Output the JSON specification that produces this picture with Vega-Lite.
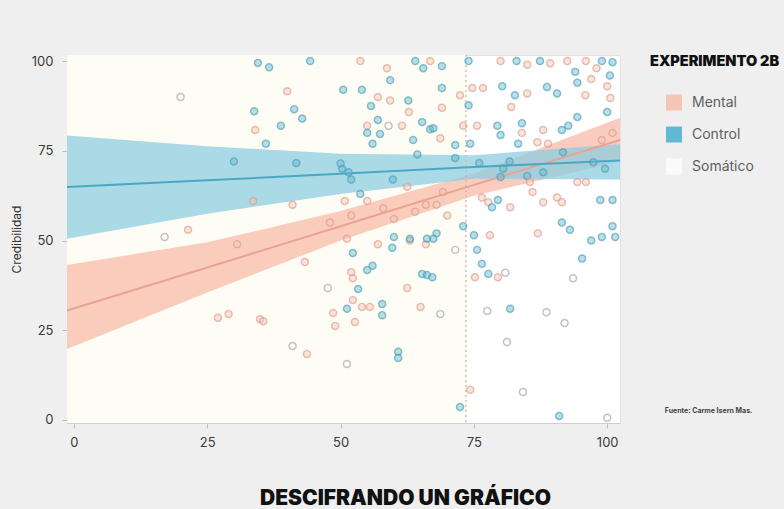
{
 "$schema": "https://vega.github.io/schema/vega-lite/v6.json",
 "width": 553,
 "height": 368,
 "autosize": {"type": "none"},
 "padding": {"left": 67, "top": 55, "right": 164, "bottom": 86},
 "background": "#efefef",
 "config": {
  "font": "Inter",
  "view": {"fill": "#ffffff", "stroke": "#e2e2e2"},
  "axis": {"labelFont": "Inter", "labelFontSize": 13, "labelColor": "#3a3a3a", "domainColor": "#cfcfcf", "tickColor": "#bdbdbd", "tickSize": 5, "grid": false, "titleFont": "Inter"}
 },
 "title": {"text": "DESCIFRANDO UN GRÁFICO", "orient": "bottom", "anchor": "middle", "frame": "group", "dx": 62, "offset": 39, "fontSize": 21, "fontWeight": 900, "font": "Inter", "color": "#111111", "letterSpacing": -0.3},
 "datasets": {
  "umbral": [{"inicio": -1.3, "corte": 73.5, "fuente": "Fuente: Carme Isern Mas.", "fx": 110.8, "fy": 2.5}],
  "ajuste": [
   {"grupo": "Mental", "x": -1.3, "fit": 30.5, "lo": 19.8, "hi": 43.2},
   {"grupo": "Mental", "x": 25, "fit": 42.5, "lo": 35.5, "hi": 49.5},
   {"grupo": "Mental", "x": 50, "fit": 54, "lo": 50, "hi": 58.2},
   {"grupo": "Mental", "x": 75, "fit": 65.5, "lo": 62.5, "hi": 68.7},
   {"grupo": "Mental", "x": 102.4, "fit": 78, "lo": 72, "hi": 84.2},
   {"grupo": "Control", "x": -1.3, "fit": 64.9, "lo": 50.5, "hi": 79.3},
   {"grupo": "Control", "x": 25, "fit": 66.8, "lo": 57.5, "hi": 76.3},
   {"grupo": "Control", "x": 50, "fit": 68.6, "lo": 63, "hi": 74.2},
   {"grupo": "Control", "x": 75, "fit": 70.5, "lo": 67.2, "hi": 73.8},
   {"grupo": "Control", "x": 102.4, "fit": 72.3, "lo": 67, "hi": 76.8}
  ],
  "puntos": [
   {"x": 20, "y": 90, "g": "Somático"},
   {"x": 30, "y": 72, "g": "Control"},
   {"x": 17, "y": 51, "g": "Somático"},
   {"x": 21.4, "y": 53, "g": "Mental"},
   {"x": 34.5, "y": 99.5, "g": "Control"},
   {"x": 36.6, "y": 98.3, "g": "Control"},
   {"x": 44.3, "y": 100, "g": "Control"},
   {"x": 53.7, "y": 100, "g": "Mental"},
   {"x": 64, "y": 100, "g": "Control"},
   {"x": 66.8, "y": 100, "g": "Mental"},
   {"x": 65.5, "y": 98, "g": "Control"},
   {"x": 58.7, "y": 98, "g": "Mental"},
   {"x": 59.3, "y": 94.7, "g": "Control"},
   {"x": 40, "y": 91.6, "g": "Mental"},
   {"x": 50.5, "y": 92, "g": "Control"},
   {"x": 54, "y": 92, "g": "Control"},
   {"x": 57, "y": 90, "g": "Mental"},
   {"x": 59.3, "y": 89, "g": "Mental"},
   {"x": 62.7, "y": 89, "g": "Control"},
   {"x": 55.7, "y": 87.5, "g": "Control"},
   {"x": 62.8, "y": 85.8, "g": "Mental"},
   {"x": 33.8, "y": 86, "g": "Control"},
   {"x": 41.3, "y": 86.6, "g": "Control"},
   {"x": 42.8, "y": 84, "g": "Control"},
   {"x": 38.8, "y": 82, "g": "Control"},
   {"x": 34, "y": 80.8, "g": "Mental"},
   {"x": 55, "y": 82, "g": "Mental"},
   {"x": 57, "y": 83.6, "g": "Control"},
   {"x": 59, "y": 82, "g": "Somático"},
   {"x": 61.5, "y": 82, "g": "Mental"},
   {"x": 65.3, "y": 83, "g": "Control"},
   {"x": 66.8, "y": 81, "g": "Control"},
   {"x": 55, "y": 80, "g": "Control"},
   {"x": 57.4, "y": 79.7, "g": "Control"},
   {"x": 56, "y": 77, "g": "Control"},
   {"x": 63.6, "y": 78, "g": "Control"},
   {"x": 36, "y": 77, "g": "Control"},
   {"x": 41.7, "y": 71.6, "g": "Control"},
   {"x": 50.3, "y": 70, "g": "Control"},
   {"x": 52, "y": 67, "g": "Control"},
   {"x": 59.8, "y": 67, "g": "Control"},
   {"x": 53.7, "y": 63, "g": "Control"},
   {"x": 64.4, "y": 74, "g": "Control"},
   {"x": 50.8, "y": 61, "g": "Mental"},
   {"x": 41, "y": 60, "g": "Mental"},
   {"x": 33.6, "y": 61, "g": "Mental"},
   {"x": 62.5, "y": 65, "g": "Mental"},
   {"x": 55, "y": 61, "g": "Mental"},
   {"x": 50, "y": 71.5, "g": "Control"},
   {"x": 51.5, "y": 69, "g": "Control"},
   {"x": 48, "y": 55, "g": "Mental"},
   {"x": 52, "y": 57, "g": "Mental"},
   {"x": 58, "y": 59, "g": "Mental"},
   {"x": 60, "y": 56, "g": "Mental"},
   {"x": 64, "y": 58, "g": "Mental"},
   {"x": 66, "y": 60, "g": "Mental"},
   {"x": 70, "y": 57, "g": "Mental"},
   {"x": 57, "y": 49, "g": "Mental"},
   {"x": 60, "y": 51, "g": "Control"},
   {"x": 63, "y": 50, "g": "Mental"},
   {"x": 66, "y": 49, "g": "Mental"},
   {"x": 68, "y": 52, "g": "Control"},
   {"x": 69, "y": 98.6, "g": "Control"},
   {"x": 74, "y": 100, "g": "Control"},
   {"x": 80, "y": 100, "g": "Mental"},
   {"x": 83, "y": 100, "g": "Control"},
   {"x": 87.4, "y": 100, "g": "Control"},
   {"x": 89.3, "y": 99.4, "g": "Mental"},
   {"x": 92.5, "y": 100, "g": "Mental"},
   {"x": 99, "y": 100, "g": "Control"},
   {"x": 101, "y": 99.7, "g": "Control"},
   {"x": 85, "y": 99, "g": "Mental"},
   {"x": 94, "y": 97, "g": "Control"},
   {"x": 96, "y": 100, "g": "Mental"},
   {"x": 98, "y": 98, "g": "Mental"},
   {"x": 100.5, "y": 96, "g": "Control"},
   {"x": 97, "y": 95, "g": "Mental"},
   {"x": 69, "y": 92.5, "g": "Control"},
   {"x": 72.4, "y": 90.5, "g": "Mental"},
   {"x": 74.7, "y": 92.5, "g": "Mental"},
   {"x": 76.7, "y": 92.5, "g": "Mental"},
   {"x": 80.3, "y": 93, "g": "Control"},
   {"x": 82.7, "y": 90.5, "g": "Control"},
   {"x": 85, "y": 91, "g": "Mental"},
   {"x": 88.7, "y": 92.8, "g": "Control"},
   {"x": 90.6, "y": 91, "g": "Control"},
   {"x": 94.4, "y": 94, "g": "Control"},
   {"x": 95.9, "y": 90.5, "g": "Mental"},
   {"x": 100, "y": 93, "g": "Mental"},
   {"x": 100.6, "y": 89.7, "g": "Mental"},
   {"x": 69, "y": 87, "g": "Mental"},
   {"x": 74, "y": 87.7, "g": "Control"},
   {"x": 82, "y": 87.2, "g": "Mental"},
   {"x": 94.4, "y": 84.4, "g": "Control"},
   {"x": 100, "y": 85.8, "g": "Control"},
   {"x": 67.4, "y": 81.3, "g": "Control"},
   {"x": 73, "y": 82, "g": "Mental"},
   {"x": 75.6, "y": 82, "g": "Mental"},
   {"x": 79.4, "y": 82, "g": "Control"},
   {"x": 80, "y": 79.4, "g": "Control"},
   {"x": 84, "y": 82.7, "g": "Control"},
   {"x": 84, "y": 80, "g": "Mental"},
   {"x": 88, "y": 80.8, "g": "Mental"},
   {"x": 91.5, "y": 80.8, "g": "Control"},
   {"x": 92.7, "y": 82, "g": "Control"},
   {"x": 68.7, "y": 78.5, "g": "Mental"},
   {"x": 71.5, "y": 76.6, "g": "Control"},
   {"x": 74.3, "y": 77, "g": "Control"},
   {"x": 83.3, "y": 77, "g": "Control"},
   {"x": 86.9, "y": 77.4, "g": "Mental"},
   {"x": 88.9, "y": 77, "g": "Mental"},
   {"x": 101, "y": 80, "g": "Mental"},
   {"x": 99, "y": 78, "g": "Mental"},
   {"x": 71.5, "y": 73, "g": "Control"},
   {"x": 76, "y": 71.6, "g": "Control"},
   {"x": 80.5, "y": 70, "g": "Control"},
   {"x": 81.7, "y": 72, "g": "Control"},
   {"x": 88, "y": 69, "g": "Control"},
   {"x": 85, "y": 68, "g": "Control"},
   {"x": 91.7, "y": 74.6, "g": "Control"},
   {"x": 97.4, "y": 71.8, "g": "Control"},
   {"x": 99.6, "y": 70, "g": "Control"},
   {"x": 80, "y": 67.7, "g": "Control"},
   {"x": 69.2, "y": 63.5, "g": "Mental"},
   {"x": 76.5, "y": 62, "g": "Mental"},
   {"x": 77.7, "y": 60.7, "g": "Mental"},
   {"x": 79.5, "y": 61.3, "g": "Control"},
   {"x": 78.4, "y": 59.3, "g": "Control"},
   {"x": 81.8, "y": 59.3, "g": "Mental"},
   {"x": 85.5, "y": 66.3, "g": "Mental"},
   {"x": 86, "y": 63.5, "g": "Mental"},
   {"x": 88, "y": 60.7, "g": "Mental"},
   {"x": 90.6, "y": 62, "g": "Mental"},
   {"x": 91.5, "y": 60.7, "g": "Mental"},
   {"x": 94.4, "y": 66.3, "g": "Mental"},
   {"x": 96, "y": 66.3, "g": "Mental"},
   {"x": 98.7, "y": 61.3, "g": "Control"},
   {"x": 101, "y": 61.3, "g": "Control"},
   {"x": 68, "y": 60, "g": "Mental"},
   {"x": 91.5, "y": 55, "g": "Control"},
   {"x": 93, "y": 53, "g": "Control"},
   {"x": 87, "y": 52, "g": "Mental"},
   {"x": 73, "y": 54, "g": "Control"},
   {"x": 75, "y": 51.5, "g": "Control"},
   {"x": 101, "y": 54, "g": "Control"},
   {"x": 78, "y": 51.5, "g": "Mental"},
   {"x": 97, "y": 50, "g": "Control"},
   {"x": 99, "y": 51, "g": "Control"},
   {"x": 101.5, "y": 51, "g": "Control"},
   {"x": 30.6, "y": 49, "g": "Mental"},
   {"x": 27, "y": 28.5, "g": "Mental"},
   {"x": 29, "y": 29.5, "g": "Mental"},
   {"x": 34.9, "y": 28.1, "g": "Mental"},
   {"x": 35.5, "y": 27.5, "g": "Mental"},
   {"x": 51.2, "y": 50.5, "g": "Mental"},
   {"x": 59.7, "y": 48, "g": "Control"},
   {"x": 63, "y": 50.5, "g": "Control"},
   {"x": 66.2, "y": 50.5, "g": "Control"},
   {"x": 52.3, "y": 46.5, "g": "Control"},
   {"x": 43.3, "y": 44, "g": "Mental"},
   {"x": 56, "y": 43, "g": "Control"},
   {"x": 55, "y": 41.8, "g": "Control"},
   {"x": 52, "y": 41.2, "g": "Mental"},
   {"x": 65.3, "y": 40.7, "g": "Control"},
   {"x": 66.2, "y": 40.4, "g": "Control"},
   {"x": 52.3, "y": 39.5, "g": "Mental"},
   {"x": 47.6, "y": 36.8, "g": "Somático"},
   {"x": 62.5, "y": 36.8, "g": "Mental"},
   {"x": 53.3, "y": 36.5, "g": "Control"},
   {"x": 52.3, "y": 33.4, "g": "Mental"},
   {"x": 51.2, "y": 31, "g": "Control"},
   {"x": 54, "y": 31.5, "g": "Mental"},
   {"x": 55.5, "y": 31.5, "g": "Mental"},
   {"x": 57.8, "y": 32.3, "g": "Control"},
   {"x": 57.8, "y": 29.2, "g": "Control"},
   {"x": 65, "y": 31.5, "g": "Mental"},
   {"x": 48.6, "y": 29.8, "g": "Mental"},
   {"x": 49, "y": 26.2, "g": "Mental"},
   {"x": 52.7, "y": 27.3, "g": "Mental"},
   {"x": 41, "y": 20.6, "g": "Somático"},
   {"x": 43.7, "y": 18.4, "g": "Mental"},
   {"x": 51.2, "y": 15.6, "g": "Somático"},
   {"x": 60.8, "y": 19, "g": "Control"},
   {"x": 60.8, "y": 17.3, "g": "Control"},
   {"x": 67.4, "y": 50.5, "g": "Control"},
   {"x": 71.5, "y": 47.4, "g": "Somático"},
   {"x": 75.6, "y": 47.4, "g": "Control"},
   {"x": 76.5, "y": 43.5, "g": "Control"},
   {"x": 77.7, "y": 40.7, "g": "Control"},
   {"x": 75.2, "y": 39.8, "g": "Mental"},
   {"x": 79.5, "y": 39.8, "g": "Mental"},
   {"x": 80.9, "y": 41, "g": "Somático"},
   {"x": 95.3, "y": 45, "g": "Control"},
   {"x": 93.6, "y": 39.5, "g": "Somático"},
   {"x": 67.2, "y": 39.8, "g": "Control"},
   {"x": 68.7, "y": 29.5, "g": "Somático"},
   {"x": 77.5, "y": 30.4, "g": "Somático"},
   {"x": 81.8, "y": 31, "g": "Control"},
   {"x": 88.6, "y": 30, "g": "Somático"},
   {"x": 92, "y": 27, "g": "Somático"},
   {"x": 81.2, "y": 21.7, "g": "Somático"},
   {"x": 74.3, "y": 8.4, "g": "Mental"},
   {"x": 72.4, "y": 3.6, "g": "Control"},
   {"x": 84.2, "y": 7.8, "g": "Somático"},
   {"x": 91, "y": 1.1, "g": "Control"},
   {"x": 100, "y": 0.6, "g": "Somático"}
  ]
 },
 "layer": [
  {
   "data": {"name": "umbral"},
   "mark": {"type": "rect", "color": "#fefdf5"},
   "encoding": {
    "x": {"field": "inicio", "type": "quantitative", "scale": {"domain": [-1.3, 102.4], "nice": false, "zero": false}},
    "x2": {"field": "corte"}
   }
  },
  {
   "data": {"name": "ajuste"},
   "transform": [{"filter": "datum.grupo === 'Mental'"}],
   "mark": {"type": "area", "color": "#f7b9a6", "opacity": 0.72},
   "encoding": {
    "x": {"field": "x", "type": "quantitative"},
    "y": {"field": "lo", "type": "quantitative"},
    "y2": {"field": "hi"}
   }
  },
  {
   "data": {"name": "ajuste"},
   "transform": [{"filter": "datum.grupo === 'Control'"}],
   "mark": {"type": "area", "color": "#8dcde0", "opacity": 0.75},
   "encoding": {
    "x": {"field": "x", "type": "quantitative"},
    "y": {"field": "lo", "type": "quantitative"},
    "y2": {"field": "hi"}
   }
  },
  {
   "data": {"name": "umbral"},
   "mark": {"type": "rule", "color": "#c9b9a9", "strokeDash": [2, 3], "strokeWidth": 1.3},
   "encoding": {"x": {"field": "corte", "type": "quantitative"}}
  },
  {
   "data": {"name": "ajuste"},
   "transform": [{"filter": "datum.grupo === 'Mental'"}],
   "mark": {"type": "line", "color": "#eaa292", "strokeWidth": 2},
   "encoding": {
    "x": {"field": "x", "type": "quantitative"},
    "y": {"field": "fit", "type": "quantitative"}
   }
  },
  {
   "data": {"name": "ajuste"},
   "transform": [{"filter": "datum.grupo === 'Control'"}],
   "mark": {"type": "line", "color": "#4aa8c6", "strokeWidth": 2},
   "encoding": {
    "x": {"field": "x", "type": "quantitative"},
    "y": {"field": "fit", "type": "quantitative"}
   }
  },
  {
   "data": {"name": "puntos"},
   "mark": {"type": "point", "shape": "circle", "filled": false, "size": 50, "strokeWidth": 1.4, "fillOpacity": 0.45, "strokeOpacity": 0.65},
   "encoding": {
    "x": {"field": "x", "type": "quantitative", "scale": {"domain": [-1.3, 102.4], "nice": false, "zero": false}, "axis": {"values": [0, 25, 50, 75, 100], "title": null, "labelPadding": 8}},
    "y": {"field": "y", "type": "quantitative", "scale": {"domain": [-0.84, 101.7], "nice": false, "zero": false}, "axis": {"values": [0, 25, 50, 75, 100], "title": "Credibilidad", "titleFontSize": 12, "titleFontWeight": "normal", "titleColor": "#333333", "titlePadding": 8, "labelPadding": 9}},
    "fill": {"field": "g", "type": "nominal", "scale": {"domain": ["Mental", "Control", "Somático"], "range": ["#f5c6b4", "#62b8d2", "#fafafa"]},
     "legend": {"title": "EXPERIMENTO 2B", "orient": "none", "legendX": 583, "legendY": 0, "padding": 0, "titleFontSize": 14.5, "titleFontWeight": 900, "titleColor": "#111111", "titlePadding": 25, "labelFontSize": 14, "labelColor": "#5f5f5f", "labelOffset": 10, "symbolType": "square", "symbolSize": 256, "symbolStrokeWidth": 0, "symbolOpacity": 1, "symbolFillOpacity": 1, "symbolOffset": 16, "rowPadding": 16, "values": ["Mental", "Control", "Somático"]}},
    "stroke": {"field": "g", "type": "nominal", "scale": {"domain": ["Mental", "Control", "Somático"], "range": ["#dc9d8e", "#4f9fb2", "#9f9f9f"]}, "legend": null}
   }
  },
  {
   "data": {"name": "umbral"},
   "mark": {"type": "text", "align": "left", "baseline": "middle", "fontSize": 7, "fontWeight": "bold", "color": "#444444", "clip": false},
   "encoding": {
    "x": {"field": "fx", "type": "quantitative"},
    "y": {"field": "fy", "type": "quantitative"},
    "text": {"field": "fuente"}
   }
  }
 ]
}
